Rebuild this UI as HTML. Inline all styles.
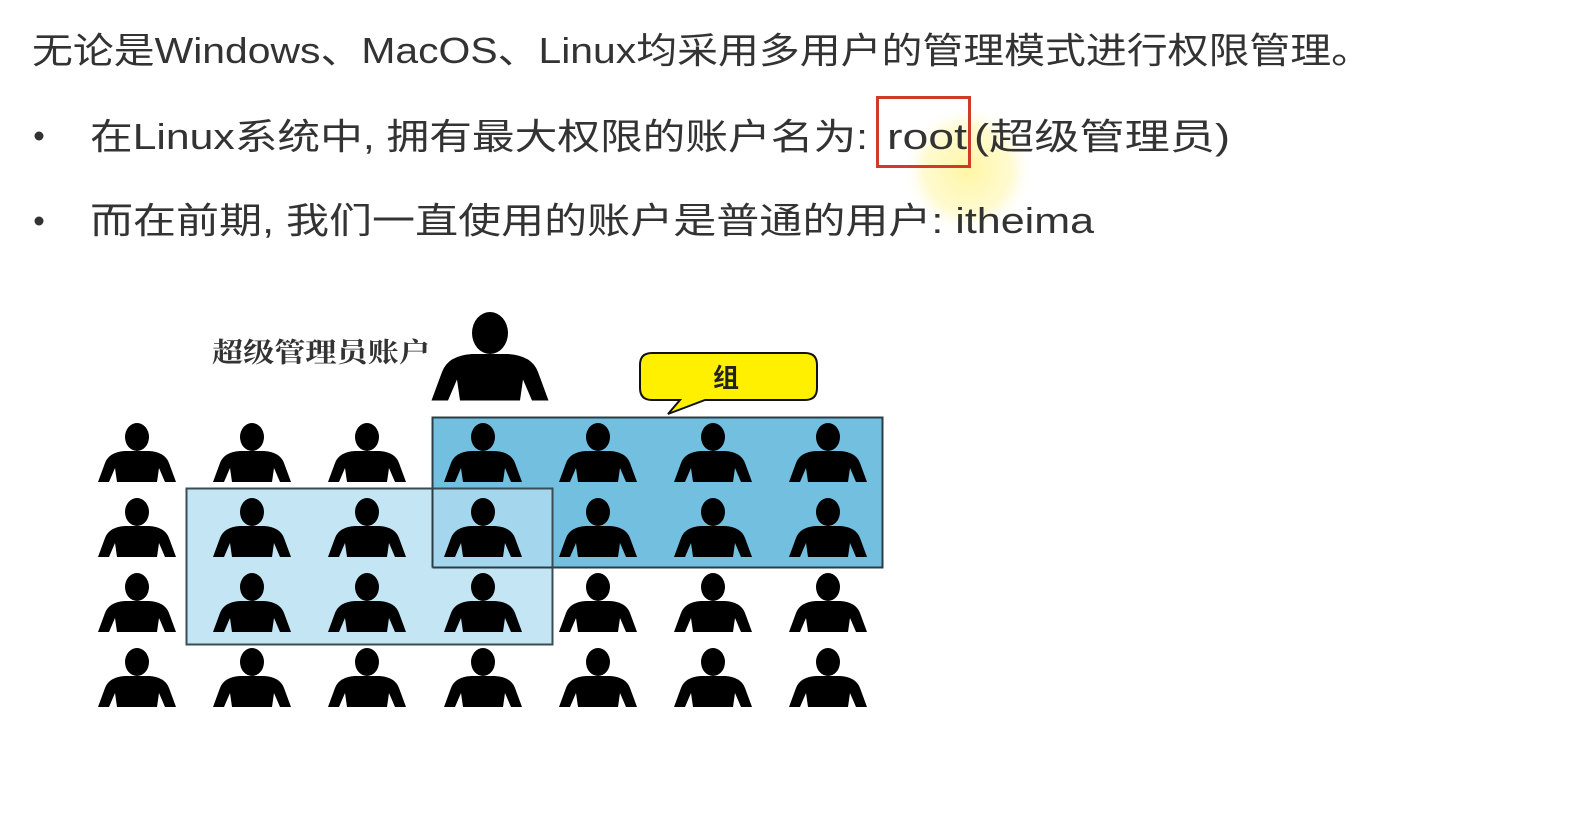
<!DOCTYPE html>
<html><head><meta charset="utf-8"><style>
html,body{margin:0;padding:0;background:#fff;width:1579px;height:814px;overflow:hidden}
</style></head><body>
<svg width="1579" height="814" viewBox="0 0 1579 814" xmlns="http://www.w3.org/2000/svg">
<defs>
<radialGradient id="glow"><stop offset="0" stop-color="#fff59a" stop-opacity="0.9"/><stop offset="0.7" stop-color="#fff7b0" stop-opacity="0.6"/><stop offset="1" stop-color="#fffbe0" stop-opacity="0"/></radialGradient>
<g id="p">
<ellipse cx="0" cy="0" rx="12" ry="14" fill="#000"/>
<path d="M-12,14 L12,14 Q28,15 32,26 L39,45 L28,45 L22,31 L20,45 L-20,45 L-22,31 L-28,45 L-39,45 L-32,26 Q-28,15 -12,14 Z" fill="#000"/>
</g>
</defs>
<circle cx="968" cy="170" r="62" fill="url(#glow)"/>
<g font-family="'Liberation Sans','Noto Sans CJK SC',sans-serif" fill="#333" font-size="36">
<text x="32" y="63" textLength="1340" lengthAdjust="spacingAndGlyphs">无论是Windows、MacOS、Linux均采用多用户的管理模式进行权限管理。</text>
<circle cx="39" cy="136" r="4.5" fill="#333"/>
<text x="90" y="149" textLength="778" lengthAdjust="spacingAndGlyphs">在Linux系统中, 拥有最大权限的账户名为:</text>
<text x="887" y="149" textLength="80" lengthAdjust="spacingAndGlyphs">root</text>
<text x="974" y="149" textLength="256" lengthAdjust="spacingAndGlyphs">(超级管理员)</text>
<circle cx="39" cy="221" r="4.5" fill="#333"/>
<text x="90" y="233" textLength="1004" lengthAdjust="spacingAndGlyphs">而在前期, 我们一直使用的账户是普通的用户: itheima</text>
</g>
<rect x="877.5" y="97.5" width="92" height="69" fill="none" stroke="#d03a2a" stroke-width="3"/>
<rect x="432.5" y="417.5" width="450" height="150" fill="#72bfe0" stroke="#2b3d44" stroke-width="2"/>
<rect x="186.5" y="488.5" width="366" height="156" fill="rgba(178,222,241,0.78)" stroke="#3b4d54" stroke-width="2"/>
<line x1="432.5" y1="488.5" x2="432.5" y2="567.5" stroke="#2b3d44" stroke-width="2"/>
<line x1="432.5" y1="567.5" x2="552.5" y2="567.5" stroke="#2b3d44" stroke-width="2"/>
<path d="M652,353 L805,353 Q817,353 817,365 L817,388 Q817,400 805,400 L705,400 L668,414 L680,400 L652,400 Q640,400 640,388 L640,365 Q640,353 652,353 Z" fill="#fff000" stroke="#111" stroke-width="2"/>
<text x="726" y="387" font-family="'Noto Sans CJK SC',sans-serif" font-weight="bold" font-size="26" text-anchor="middle" fill="#222">组</text>
<text x="212" y="362" font-family="'Noto Serif CJK SC','Noto Sans CJK SC',serif" font-weight="bold" font-size="27" fill="#333" textLength="218" lengthAdjust="spacingAndGlyphs">超级管理员账户</text>
<g transform="translate(490,333) scale(1.5,1.5)"><use href="#p"/></g>
<g>
<use href="#p" x="137" y="437"/><use href="#p" x="252" y="437"/><use href="#p" x="367" y="437"/><use href="#p" x="483" y="437"/><use href="#p" x="598" y="437"/><use href="#p" x="713" y="437"/><use href="#p" x="828" y="437"/>
<use href="#p" x="137" y="512"/><use href="#p" x="252" y="512"/><use href="#p" x="367" y="512"/><use href="#p" x="483" y="512"/><use href="#p" x="598" y="512"/><use href="#p" x="713" y="512"/><use href="#p" x="828" y="512"/>
<use href="#p" x="137" y="587"/><use href="#p" x="252" y="587"/><use href="#p" x="367" y="587"/><use href="#p" x="483" y="587"/><use href="#p" x="598" y="587"/><use href="#p" x="713" y="587"/><use href="#p" x="828" y="587"/>
<use href="#p" x="137" y="662"/><use href="#p" x="252" y="662"/><use href="#p" x="367" y="662"/><use href="#p" x="483" y="662"/><use href="#p" x="598" y="662"/><use href="#p" x="713" y="662"/><use href="#p" x="828" y="662"/>
</g>
</svg>
</body></html>
